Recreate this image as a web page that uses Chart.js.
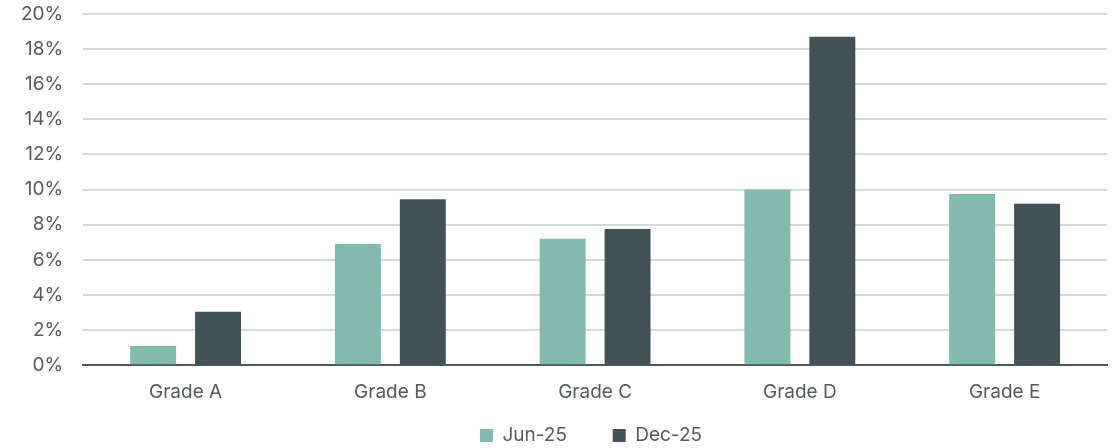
<!DOCTYPE html>
<html>
<head>
<meta charset="utf-8">
<script src="https://cdn.jsdelivr.net/npm/chart.js@4"></script>
<style>
  html, body { margin: 0; padding: 0; background: #fff; }
  #wrap { width: 1114px; height: 448px; overflow: hidden; }
</style>
</head>
<body>
<div id="wrap"><canvas id="gradeChart" width="1114" height="455"></canvas></div>
<script>
// grades on the x axis, rates in percent
const grades = ["Grade A", "Grade B", "Grade C", "Grade D", "Grade E"];
const jun25 = [1.1, 6.9, 7.2, 10.0, 9.75];
const dec25 = [3.05, 9.45, 7.75, 18.7, 9.2];
const seriesLabels = ["Jun-25", "Dec-25"];

const tickColor = "#555a5b";
const fontFamily = "Inter, Roboto, sans-serif";

// legend sits a bit right of the canvas centre, under the plot
const nudgeLegend = {
  id: "nudgeLegend",
  afterLayout(chart) {
    if (chart.legend) {
      chart.legend.left += 37;
      chart.legend.right += 37;
    }
  },
};

let ctx = document.getElementById("gradeChart").getContext("2d");
let chart1 = new Chart(ctx, {
  type: "bar",
  data: {
    labels: grades,
    datasets: [
      {
        label: seriesLabels[0],
        backgroundColor: "#82baad",
        data: jun25,
      },
      {
        label: seriesLabels[1],
        backgroundColor: "#435256",
        data: dec25,
      },
    ],
  },
  plugins: [nudgeLegend],
  options: {
    responsive: false,
    animation: false,
    categoryPercentage: 0.634,
    barPercentage: 0.708,
    layout: {
      padding: { left: 1, right: 7, top: 14, bottom: 0 },
    },
    plugins: {
      tooltip: { enabled: false },
      legend: {
        position: "bottom",
        labels: {
          boxWidth: 13,
          boxHeight: 13,
          padding: 3,
          color: tickColor,
          font: { family: fontFamily, size: 19 },
          // wider gap after the first item without a tall legend box
          generateLabels: (chart) => {
            const items = Chart.defaults.plugins.legend.labels.generateLabels(chart);
            items[0].text += "        ";
            return items;
          },
        },
      },
    },
    scales: {
      x: {
        grid: { display: false, drawTicks: false },
        border: { display: true, color: "#4b5759", width: 2 },
        ticks: {
          color: tickColor,
          padding: 16,
          font: { family: fontFamily, size: 19 },
        },
        // a little more room between the grade labels and the legend
        afterFit: (s) => {
          s.height += 3;
        },
      },
      y: {
        min: 0,
        max: 20,
        grid: { color: "#d3dadb", lineWidth: 2, drawTicks: false },
        border: { display: false },
        ticks: {
          stepSize: 2,
          color: tickColor,
          padding: 20,
          font: { family: fontFamily, size: 19 },
          callback: (v) => v + "%",
        },
        afterFit: (s) => {
          s.paddingTop = 0;
        },
      },
    },
  },
});
</script>
</body>
</html>
